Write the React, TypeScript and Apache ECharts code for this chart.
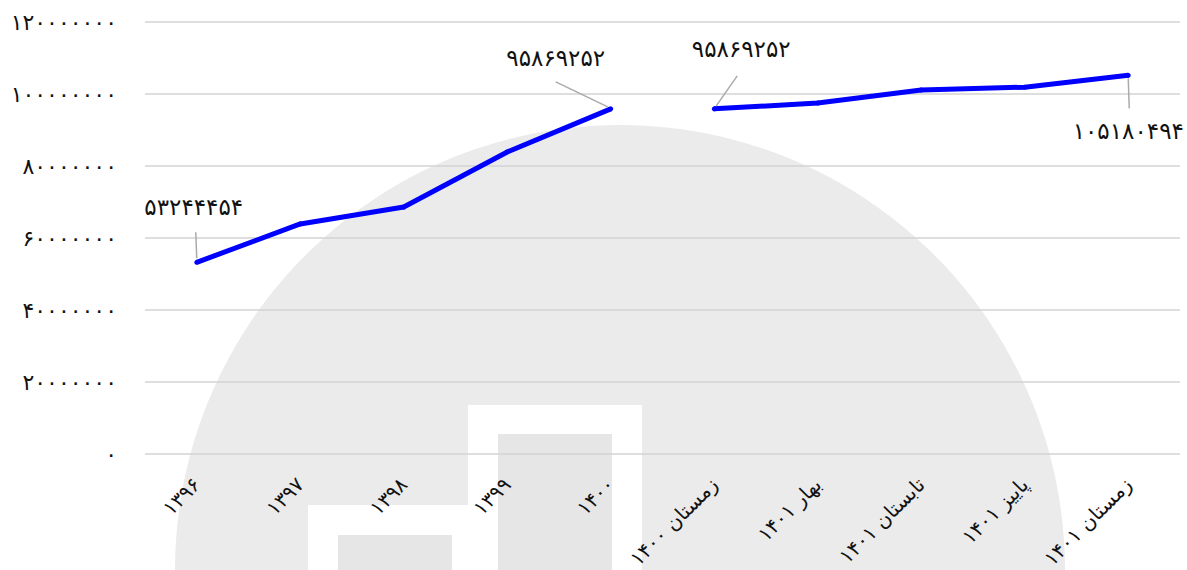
import React, { useEffect, useRef } from "react";
import * as echarts from "echarts";

const categories = [
  "۱۳۹۶",
  "۱۳۹۷",
  "۱۳۹۸",
  "۱۳۹۹",
  "۱۴۰۰",
  "زمستان ۱۴۰۰",
  "بهار ۱۴۰۱",
  "تابستان ۱۴۰۱",
  "پاییز ۱۴۰۱",
  "زمستان ۱۴۰۱",
];

// yearly series (first five categories)
const yearlyValues = [53244454, 63900000, 68600000, 83900000, 95869252];
// seasonal series (last five categories)
const seasonalValues = [95869252, 97500000, 101100000, 101900000, 105180494];

const yMin = 0;
const yMax = 120000000;
const yInterval = 20000000;

const FA_DIGITS = "۰۱۲۳۴۵۶۷۸۹";
const toFa = (v: number | string) =>
  String(v).replace(/\d/g, (d) => FA_DIGITS[Number(d)]);

const FONT = "DejaVu Sans";

export default function App() {
  const ref = useRef<HTMLDivElement>(null);

  useEffect(() => {
    document.body.style.margin = "0";
    if (!ref.current) return;
    const chart = echarts.init(ref.current, null, { renderer: "svg" });

    const n = categories.length;
    const offset = n - seasonalValues.length;
    const yearlyData: any[] = categories.map((_, i) =>
      i < yearlyValues.length ? yearlyValues[i] : "-"
    );
    const seasonalData: any[] = categories.map((_, i) =>
      i >= offset ? seasonalValues[i - offset] : "-"
    );

    const watermark: any[] = [
      {
        type: "circle",
        z: -10,
        silent: true,
        shape: { cx: 620, cy: 570, r: 445 },
        style: { fill: "#ebebeb" },
      },
      {
        type: "rect",
        z: -9,
        silent: true,
        shape: { x: 308, y: 505, width: 170, height: 80 },
        style: { fill: "#ffffff" },
      },
      {
        type: "rect",
        z: -9,
        silent: true,
        shape: { x: 468, y: 405, width: 174, height: 180 },
        style: { fill: "#ffffff" },
      },
      {
        type: "rect",
        z: -8,
        silent: true,
        shape: { x: 338, y: 535, width: 114, height: 50 },
        style: { fill: "#e6e6e6" },
      },
      {
        type: "rect",
        z: -8,
        silent: true,
        shape: { x: 498, y: 434, width: 114, height: 150 },
        style: { fill: "#e6e6e6" },
      },
    ];

    const option: any = {
      animation: false,
      backgroundColor: "#ffffff",
      graphic: watermark,
      grid: {
        left: 145,
        right: 7,
        top: 22,
        bottom: 116,
        containLabel: false,
        outerBoundsMode: "none",
      },
      xAxis: {
        type: "category",
        data: categories,
        boundaryGap: true,
        axisLine: { show: false },
        axisTick: { show: false },
        axisLabel: {
          rotate: 45,
          margin: 27,
          interval: 0,
          color: "#111",
          fontSize: 20,
          fontFamily: FONT,
        },
        splitLine: { show: false },
      },
      yAxis: {
        type: "value",
        min: yMin,
        max: yMax,
        interval: yInterval,
        axisLine: { show: false },
        axisTick: { show: false },
        axisLabel: {
          margin: 28,
          color: "#111",
          fontSize: 22,
          fontFamily: FONT,
          formatter: (v: number) => toFa(v),
        },
        splitLine: { show: true, lineStyle: { color: "#d3d3d3", width: 1.5 } },
      },
      series: [
        {
          type: "line",
          data: yearlyData,
          symbol: "circle",
          symbolSize: 5,
          showSymbol: true,
          lineStyle: { color: "#0000ff", width: 5 },
          itemStyle: { color: "#0000ff" },
        },
        {
          type: "line",
          data: seasonalData,
          symbol: "circle",
          symbolSize: 5,
          showSymbol: true,
          lineStyle: { color: "#0000ff", width: 5 },
          itemStyle: { color: "#0000ff" },
        },
      ],
    };

    chart.setOption(option);

    // end-point labels with leader lines, positioned from the chart's own scale
    const callouts = [
      { idx: 0, value: yearlyValues[0], lx: -1, ly1: -4, ly2: -30, tx: -3, ty: -55 },
      {
        idx: yearlyValues.length - 1,
        value: yearlyValues[yearlyValues.length - 1],
        lx: -55, ly1: -2, ly2: -27, tx: -55, ty: -51, lx1: -3,
      },
      { idx: offset, value: seasonalValues[0], lx: 23, ly1: -3, ly2: -33, tx: 27, ty: -60, lx1: 2 },
      {
        idx: n - 1,
        value: seasonalValues[seasonalValues.length - 1],
        lx: 1, ly1: 3, ly2: 33, tx: 0, ty: 56,
      },
    ];
    const extra: any[] = [];
    callouts.forEach((c: any) => {
      const [px, py] = chart.convertToPixel({ gridIndex: 0 }, [c.idx, c.value]) as number[];
      extra.push({
        type: "line",
        z: 5,
        silent: true,
        shape: { x1: px + (c.lx1 || 0), y1: py + c.ly1, x2: px + c.lx, y2: py + c.ly2 },
        style: { stroke: "#aaaaaa", lineWidth: 1.5 },
      });
      extra.push({
        type: "text",
        z: 6,
        silent: true,
        style: {
          text: toFa(c.value),
          x: px + c.tx,
          y: py + c.ty,
          align: "center",
          verticalAlign: "middle",
          textAlign: "center",
          textVerticalAlign: "middle",
          fill: "#111",
          fontSize: 23,
          fontFamily: FONT,
        },
      });
    });
    chart.setOption({ graphic: [...watermark, ...extra] });

    return () => chart.dispose();
  }, []);

  return <div ref={ref} style={{ width: 1187, height: 570 }} />;
}
